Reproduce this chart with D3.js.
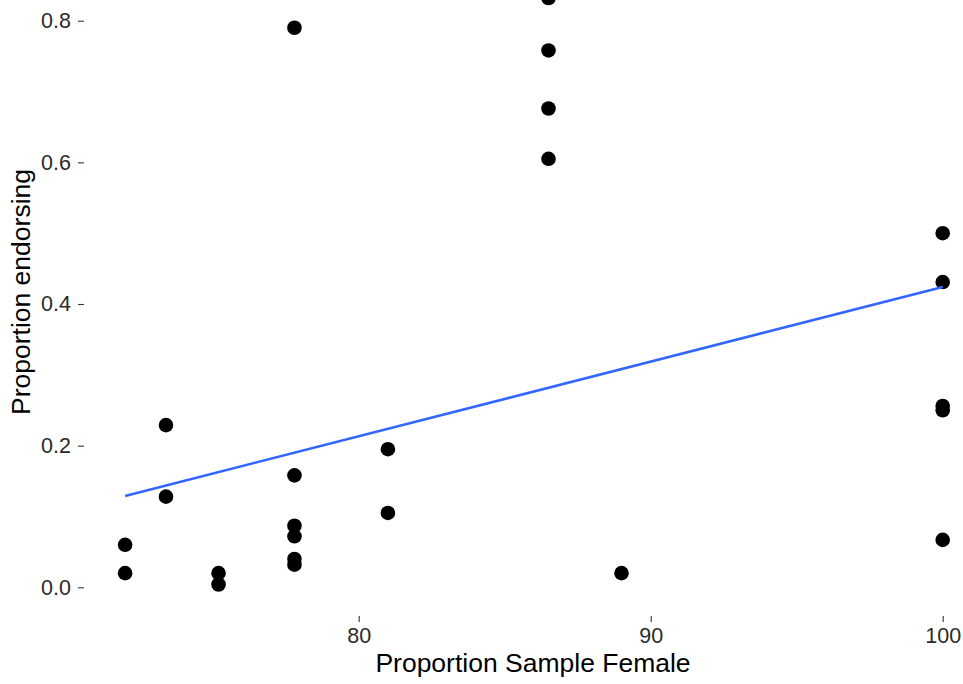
<!DOCTYPE html>
<html>
<head>
<meta charset="utf-8">
<script src="https://cdn.jsdelivr.net/npm/d3@7"></script>
<style>
  html, body { margin: 0; padding: 0; background: #fff; }
  svg { display: block; font-family: "Liberation Sans", Arial, Helvetica, sans-serif; }
</style>
</head>
<body>
<svg id="chart" width="963" height="684"></svg>
<script>
// values
const femalePct = [72.0, 72.0, 73.4, 73.4, 75.2, 75.2,
                   77.8, 77.8, 77.8, 77.8, 77.8, 77.8,
                   81.0, 81.0, 86.5, 86.5, 86.5, 86.5, 89.0,
                   100, 100, 100, 100, 100];
const endorsing = [0.060, 0.020, 0.229, 0.128, 0.020, 0.004,
                   0.790, 0.158, 0.087, 0.072, 0.040, 0.032,
                   0.195, 0.105, 0.832, 0.758, 0.676, 0.605, 0.020,
                   0.500, 0.431, 0.256, 0.250, 0.067];
// fitted line end points (lm smoother)
const fitX = [72, 100];
const fitY = [0.129, 0.424];

const xTicks = [80, 90, 100];
const yTicks = [0.0, 0.2, 0.4, 0.6, 0.8];

const svg = d3.select("#chart");

const x = d3.scaleLinear().domain([80, 100]).range([358.7, 942.7]);
const y = d3.scaleLinear().domain([0, 0.8]).range([587.3, 20.7]);

const panelLeft = 84, panelBottom = 616;

// axes, no domain line, just ticks
const xAxis = svg.append("g")
    .attr("transform", `translate(0,${panelBottom})`)
    .call(d3.axisBottom(x).tickValues(xTicks).tickSize(6).tickPadding(6).tickFormat(d3.format("d")));

const yAxis = svg.append("g")
    .attr("transform", `translate(${panelLeft},0)`)
    .call(d3.axisLeft(y).tickValues(yTicks).tickSize(6).tickPadding(7).tickFormat(d3.format(".1f")));

[xAxis, yAxis].forEach(g => {
    g.select(".domain").remove();
    g.selectAll(".tick line").attr("stroke", "#333").attr("stroke-width", 1.1);
    g.selectAll(".tick text")
        .attr("fill", "#2b2b2b")
        .style("font-size", "21.5px")
        .style("font-family", "'Liberation Sans', Arial, sans-serif");
});

// points
const pts = femalePct.map((v, i) => ({ x: v, y: endorsing[i] }));
svg.append("g")
    .selectAll("circle")
    .data(pts)
    .enter()
    .append("circle")
    .attr("cx", d => x(d.x))
    .attr("cy", d => y(d.y))
    .attr("r", 7.3)
    .attr("fill", "#000");

// smoother line
const fit = fitX.map((v, i) => [v, fitY[i]]);
svg.append("path")
    .datum(fit)
    .attr("fill", "none")
    .attr("stroke", "#3366FF")
    .attr("stroke-width", 2.6)
    .attr("d", d3.line().x(d => x(d[0])).y(d => y(d[1])));

// axis titles
svg.append("text")
    .attr("x", 533)
    .attr("y", 672)
    .attr("text-anchor", "middle")
    .style("font-size", "26.5px")
    .attr("fill", "#000")
    .text("Proportion Sample Female");

svg.append("text")
    .attr("transform", "translate(30,292) rotate(-90)")
    .attr("text-anchor", "middle")
    .style("font-size", "26.5px")
    .attr("fill", "#000")
    .text("Proportion endorsing");
</script>
</body>
</html>
